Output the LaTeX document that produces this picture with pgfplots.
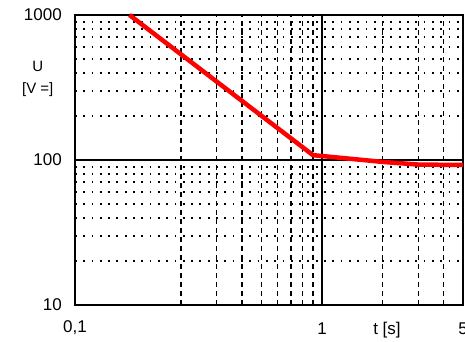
\documentclass[border=0pt]{standalone}
\usepackage{fontspec}
\setmainfont{Liberation Sans}
\usepackage{pgfplots}
\pgfplotsset{compat=1.18}
\begin{document}
\begin{tikzpicture}
\path[use as bounding box] (0pt,0pt) rectangle (465pt,342pt);
\begin{axis}[
  at={(75pt,37pt)}, anchor=south west,
  scale only axis, width=388pt, height=290pt,
  xmode=log, ymode=log,
  xmin=0.0596, xmax=5, ymin=10, ymax=1000,
  clip=false,
  xtick={1}, xticklabels={},
  ytick={10,100,1000}, yticklabels={},
  minor xtick={0.2,0.3,0.4,0.5,0.6,0.7,0.8,0.9,2,3,4},
  minor ytick={20,30,40,50,60,70,80,90,200,300,400,500,600,700,800,900},
  grid=both,
  major tick length=0pt, minor tick length=0pt,
  major grid style={black, line width=1.3pt},
  minor x grid style={black, line width=1.5pt, dash pattern=on 5pt off 4pt},
  minor y grid style={black, line width=2pt, dash pattern=on 1.8pt off 6.5pt},
  axis line style={black, line width=1.6pt},
  xlabel={t [s]},
  xlabel style={at={(axis description cs:0.804,-0.086)}, anchor=center, font=\fontsize{17}{20}\selectfont},
  ylabel={U\\{[V =]}},
  ylabel style={at={(axis description cs:-0.096,0.78)}, anchor=center, rotate=-90, align=center, font=\fontsize{15}{22}\selectfont},
]
\addplot[red, line width=4.5pt, line join=round] coordinates {
  (0.111,1000) (0.902,108) (2,97) (3,93) (5,92.4)
};
\begin{scope}[every node/.style={font=\fontsize{17}{20}\selectfont, inner sep=0pt}]
\node[anchor=east] at ([xshift=-13pt]axis cs:0.0596,1000) {1000};
\node[anchor=east] at ([xshift=-13pt]axis cs:0.0596,100) {100};
\node[anchor=east] at ([xshift=-13pt]axis cs:0.0596,10) {10};
\node[anchor=center] at ([yshift=-23pt]axis cs:0.0596,10) {0,1};
\node[anchor=center] at ([yshift=-24pt]axis cs:1,10) {1};
\node[anchor=center] at ([yshift=-24pt]axis cs:5,10) {5};
\end{scope}
\end{axis}
\end{tikzpicture}
\end{document}
